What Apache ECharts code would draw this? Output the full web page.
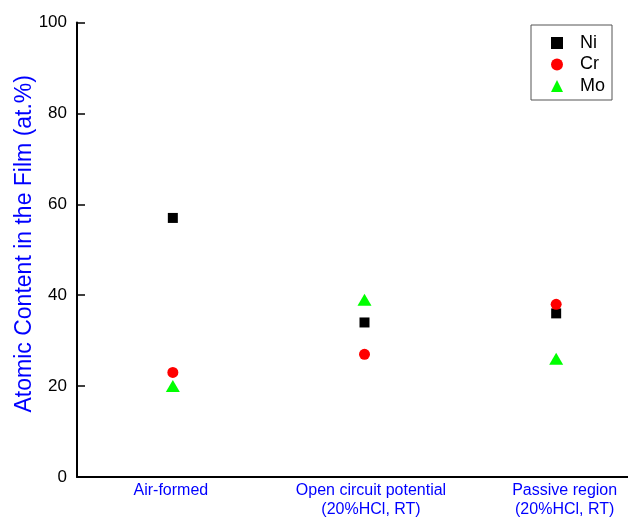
<!DOCTYPE html>
<html>
<head>
<meta charset="utf-8">
<script src="https://cdn.jsdelivr.net/npm/echarts@6/dist/echarts.min.js"></script>
<style>html,body{margin:0;padding:0;background:#fff;}#chart{width:628px;height:517px;}</style>
</head>
<body>
<div id="chart"></div>
<script>
const categories = ['Air-formed', 'Open circuit potential\n(20%HCl, RT)', 'Passive region\n(20%HCl, RT)'];
const labelKeys = ['a', 'b', 'c'];
const niValues = [57, 34, 36];
const crValues = [23, 27, 38];
const moValues = [20, 39, 26];
const yTicks = [0, 20, 40, 60, 80, 100];

const FONT = '"Liberation Sans", Arial, sans-serif';
const BLUE = '#0000ff';
const chart = echarts.init(document.getElementById('chart'));
const labelRich = {
  a: { fontSize: 16, color: BLUE, fontFamily: FONT, lineHeight: 19, padding: [0, 4, 0, 0] },
  b: { fontSize: 16, color: BLUE, fontFamily: FONT, lineHeight: 19, padding: [0, 0, 0, 13] },
  c: { fontSize: 16, color: BLUE, fontFamily: FONT, lineHeight: 19, padding: [0, 0, 0, 17] }
};
chart.setOption({
  animation: false,
  backgroundColor: '#ffffff',
  grid: { left: 77, width: 575, top: 22.5, bottom: 40, containLabel: false, outerBoundsMode: 'none' },
  legend: {
    left: 531, top: 25,
    orient: 'vertical',
    padding: [9, 7, 5, 20],
    itemWidth: 12, itemHeight: 12, itemGap: 3.5,
    borderColor: '#555', borderWidth: 1,
    textStyle: { fontSize: 18, color: '#000', fontFamily: FONT, padding: [0, 0, 0, 12] },
    data: ['Ni', 'Cr', 'Mo']
  },
  xAxis: {
    type: 'category',
    data: categories,
    boundaryGap: true,
    axisLine: { lineStyle: { color: '#000', width: 2 } },
    axisTick: { show: false },
    splitLine: { show: false },
    axisLabel: {
      margin: 4,
      interval: 0,
      formatter: function (v, i) {
        const k = labelKeys[i];
        return v.split('\n').map(function (s) { return '{' + k + '|' + s + '}'; }).join('\n');
      },
      rich: labelRich
    }
  },
  yAxis: {
    type: 'value',
    min: yTicks[0], max: yTicks[yTicks.length - 1], interval: 20,
    name: 'Atomic Content in the Film (at.%)',
    nameLocation: 'middle',
    nameGap: 41,
    nameRotate: 90,
    nameMoveOverlap: false,
    nameTextStyle: { fontSize: 23, color: BLUE, fontFamily: FONT, padding: [0, 0, 0, 12] },
    axisLine: { show: true, lineStyle: { color: '#000', width: 2 } },
    axisTick: { show: true, inside: true, length: 8, lineStyle: { color: '#000', width: 1.5 } },
    splitLine: { show: false },
    axisLabel: { margin: 10, fontSize: 17, color: '#000', fontFamily: FONT }
  },
  series: [
    { name: 'Ni', type: 'scatter', data: niValues, symbol: 'rect', symbolSize: 10,
      itemStyle: { color: '#000000', opacity: 1 }, z: 2 },
    { name: 'Cr', type: 'scatter', data: crValues, symbol: 'circle', symbolSize: 11,
      itemStyle: { color: '#ff0000', opacity: 1 }, z: 3 },
    { name: 'Mo', type: 'scatter', data: moValues, symbol: 'triangle', symbolSize: [14, 12],
      itemStyle: { color: '#00ff00', opacity: 1 }, z: 4 }
  ]
});
</script>
</body>
</html>
